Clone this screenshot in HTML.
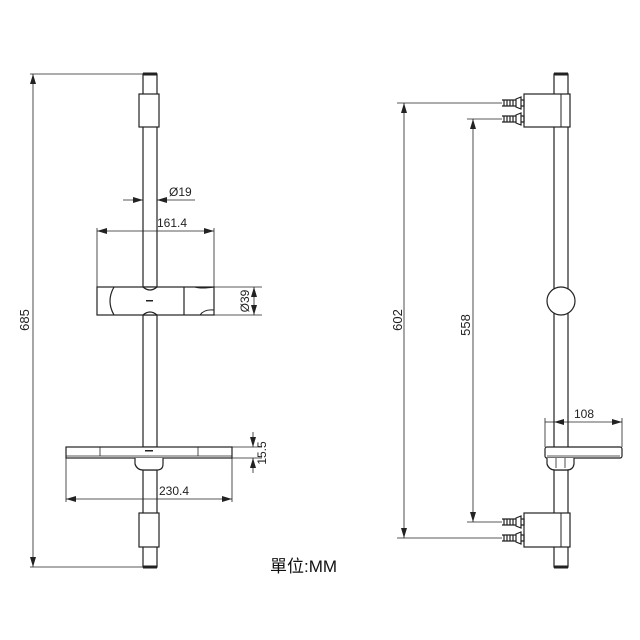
<!DOCTYPE html>
<html><head><style>html,body{margin:0;padding:0;background:#fff}svg{display:block}</style></head>
<body>
<svg width="640" height="640" viewBox="0 0 640 640" xmlns="http://www.w3.org/2000/svg" font-family="Liberation Sans, sans-serif" fill="none" stroke="#222" stroke-width="1">
<defs>
<marker id="a" viewBox="0 0 10 6" refX="10" refY="3" markerWidth="10" markerHeight="6" orient="auto-start-reverse" markerUnits="userSpaceOnUse"><path d="M0,0 L10,3 L0,6 z" fill="#222" stroke="none"/></marker>
<g id="screw"><path d="M0,-3 h14 M0,3 h14 M2,-3 v6 M5,-3 v6 M8,-3 v6 M11,-3 v6 M14,-4 l5,-2 v12 l-5,-2 z M19,-3 h3 v6 h-3" stroke-width="1.2"/></g>
</defs>

<!-- LEFT VIEW -->
<line x1="30" y1="74" x2="143" y2="74" stroke-width="0.8"/>
<line x1="30" y1="567" x2="143" y2="567" stroke-width="0.8"/>
<line x1="33" y1="74" x2="33" y2="567" marker-start="url(#a)" marker-end="url(#a)" stroke-width="0.8"/>
<text x="0" y="0" transform="translate(29,320) rotate(-90)" font-size="13" fill="#222" stroke="none" text-anchor="middle">685</text>

<rect x="143" y="74" width="14" height="213" stroke-width="1.2"/>
<rect x="143" y="315" width="14" height="132" stroke-width="1.2"/>
<rect x="143" y="470" width="14" height="97" stroke-width="1.2"/>
<line x1="143" y1="74" x2="157" y2="74" stroke-width="3"/>
<line x1="143" y1="567" x2="157" y2="567" stroke-width="3"/>
<rect x="139" y="94" width="20" height="33" fill="#fff" stroke-width="1.2"/>
<rect x="139" y="513" width="20" height="34" fill="#fff" stroke-width="1.2"/>

<line x1="123" y1="200" x2="143" y2="200" marker-end="url(#a)" stroke-width="0.8"/>
<line x1="195" y1="200" x2="157" y2="200" marker-end="url(#a)" stroke-width="0.8"/>
<text x="169" y="196" font-size="12" fill="#222" stroke="none">Ø19</text>

<line x1="97" y1="228" x2="97" y2="287" stroke-width="0.8"/>
<line x1="214" y1="228" x2="214" y2="287" stroke-width="0.8"/>
<line x1="97" y1="231" x2="214" y2="231" marker-start="url(#a)" marker-end="url(#a)" stroke-width="0.8"/>
<text x="157" y="227" font-size="12" fill="#222" stroke="none">161.4</text>

<rect x="97" y="287" width="117" height="28" fill="#fff" stroke-width="1.2"/>
<line x1="184" y1="287" x2="184" y2="315" stroke-width="1.2"/>
<path d="M143,287 q7,6 14,0 M143,315 q7,-6 14,0" stroke-width="1.2"/>
<path d="M114,287 q-8,14 0,28" stroke-width="1.2"/>
<path d="M195,287 q6,2 19,0 M200,315 q4,-6 14,-5" stroke-width="1"/>
<rect x="146" y="300" width="7" height="1.5" fill="#222" stroke="none"/>

<line x1="214" y1="287" x2="262" y2="287" stroke-width="0.8"/>
<line x1="214" y1="315" x2="262" y2="315" stroke-width="0.8"/>
<line x1="254" y1="287" x2="254" y2="315" marker-start="url(#a)" marker-end="url(#a)" stroke-width="0.8"/>
<text transform="translate(249,301) rotate(-90)" font-size="12" fill="#222" stroke="none" text-anchor="middle">Ø39</text>

<rect x="66" y="447" width="166" height="11" fill="#fff" stroke-width="1.2"/>
<line x1="66" y1="456" x2="232" y2="456" stroke-width="0.8"/>
<line x1="100" y1="447" x2="100" y2="456" stroke-width="0.8"/>
<line x1="198" y1="447" x2="198" y2="456" stroke-width="0.8"/>
<rect x="145" y="450" width="8" height="1.5" fill="#222" stroke="none"/>
<path d="M135,458 v6 q2,6 8,6 h14 q6,0 6,-6 v-6" fill="#fff" stroke-width="1.2"/>

<line x1="232" y1="447" x2="262" y2="447" stroke-width="0.8"/>
<line x1="232" y1="458" x2="262" y2="458" stroke-width="0.8"/>
<line x1="253" y1="432" x2="253" y2="447" marker-end="url(#a)" stroke-width="0.8"/>
<line x1="253" y1="473" x2="253" y2="458" marker-end="url(#a)" stroke-width="0.8"/>
<text transform="translate(266,453) rotate(-90)" font-size="12" fill="#222" stroke="none" text-anchor="middle">15.5</text>

<line x1="66" y1="458" x2="66" y2="502" stroke-width="0.8"/>
<line x1="232" y1="458" x2="232" y2="502" stroke-width="0.8"/>
<line x1="66" y1="499" x2="232" y2="499" marker-start="url(#a)" marker-end="url(#a)" stroke-width="0.8"/>
<text x="159" y="495" font-size="12" fill="#222" stroke="none">230.4</text>

<text x="270" y="572" font-size="17" fill="#111" stroke="none" font-family="Liberation Sans, Noto Sans CJK TC, sans-serif">單位:MM</text>

<!-- RIGHT VIEW -->
<rect x="554" y="74" width="14" height="374" stroke-width="1.2"/>
<rect x="554" y="470" width="14" height="97" stroke-width="1.2"/>
<line x1="554" y1="74" x2="568" y2="74" stroke-width="3"/>
<line x1="554" y1="567" x2="568" y2="567" stroke-width="3"/>
<circle cx="561" cy="301" r="14" fill="#fff" stroke-width="1.2"/>

<rect x="524" y="94" width="46" height="33" fill="#fff" stroke-width="1.2"/>
<line x1="561" y1="94" x2="561" y2="127" stroke-width="1"/>
<rect x="524" y="513" width="46" height="34" fill="#fff" stroke-width="1.2"/>
<line x1="561" y1="513" x2="561" y2="547" stroke-width="1"/>
<use href="#screw" x="502" y="103"/>
<use href="#screw" x="502" y="119"/>
<use href="#screw" x="502" y="522"/>
<use href="#screw" x="502" y="538"/>

<line x1="397" y1="103" x2="502" y2="103" stroke-width="0.8"/>
<line x1="397" y1="538" x2="502" y2="538" stroke-width="0.8"/>
<line x1="404" y1="103" x2="404" y2="538" marker-start="url(#a)" marker-end="url(#a)" stroke-width="0.8"/>
<text transform="translate(402,320) rotate(-90)" font-size="13" fill="#222" stroke="none" text-anchor="middle">602</text>
<line x1="467" y1="119" x2="502" y2="119" stroke-width="0.8"/>
<line x1="467" y1="522" x2="502" y2="522" stroke-width="0.8"/>
<line x1="473" y1="119" x2="473" y2="522" marker-start="url(#a)" marker-end="url(#a)" stroke-width="0.8"/>
<text transform="translate(470,325) rotate(-90)" font-size="13" fill="#222" stroke="none" text-anchor="middle">558</text>

<rect x="545" y="447" width="77" height="11" rx="2" fill="#fff" stroke-width="1.2"/>
<line x1="547" y1="456" x2="620" y2="456" stroke-width="0.8"/>
<path d="M547,458 v6 q2,6 8,6 h12 q6,0 7,-6 v-6" fill="#fff" stroke-width="1.2"/>
<line x1="556" y1="458" x2="556" y2="468" stroke-width="0.8"/>
<line x1="565" y1="458" x2="565" y2="468" stroke-width="0.8"/>
<line x1="545" y1="418" x2="545" y2="447" stroke-width="0.8"/>
<line x1="622" y1="418" x2="622" y2="447" stroke-width="0.8"/>
<line x1="545" y1="422" x2="554" y2="422" stroke-width="0.8"/>
<line x1="554" y1="422" x2="622" y2="422" marker-start="url(#a)" marker-end="url(#a)" stroke-width="0.8"/>
<text x="574" y="418" font-size="12" fill="#222" stroke="none">108</text>
</svg>
</body></html>
